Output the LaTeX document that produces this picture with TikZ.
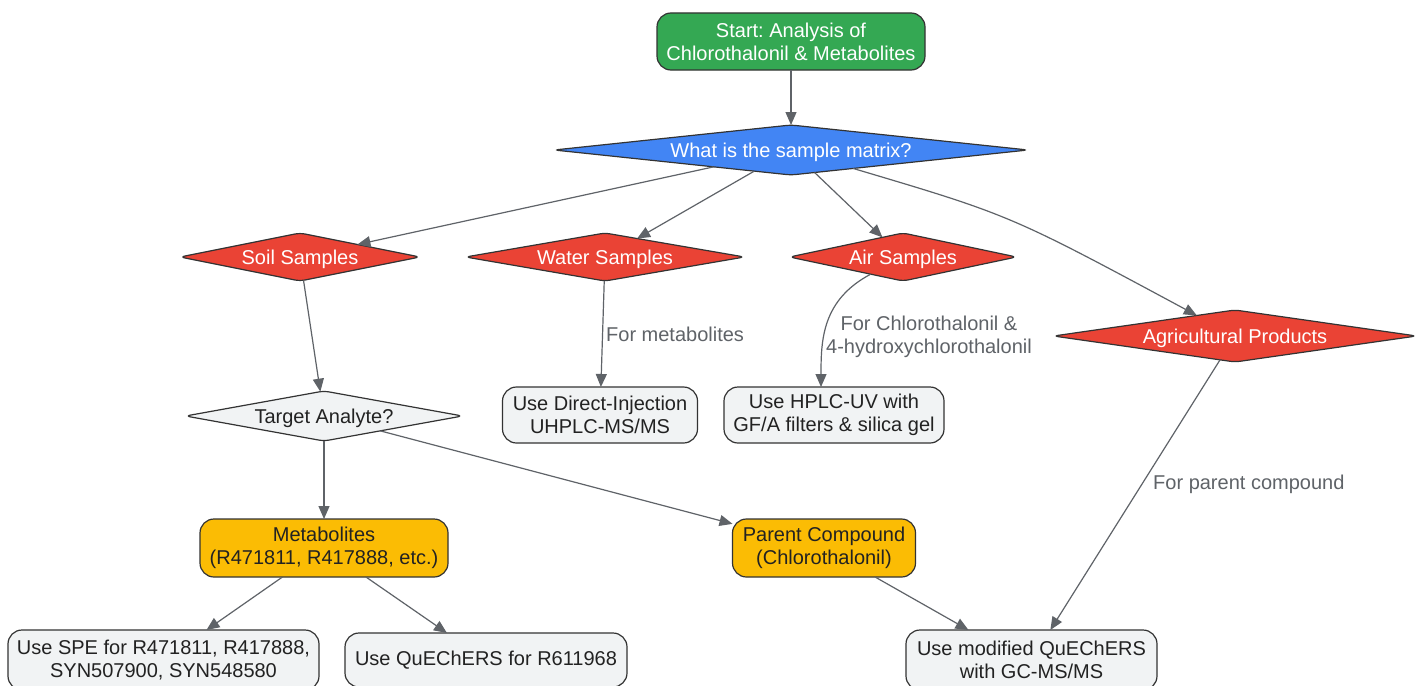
\documentclass[tikz,border=0pt]{standalone}
\usepackage{fontspec}
\setmainfont{Liberation Sans}
\usetikzlibrary{shapes.geometric,arrows.meta}
\definecolor{gGreen}{HTML}{34A853}
\definecolor{gBlue}{HTML}{4285F4}
\definecolor{gRed}{HTML}{EA4335}
\definecolor{gYellow}{HTML}{FBBC04}
\definecolor{lgray}{HTML}{F1F3F4}
\definecolor{bord}{HTML}{333333}
\definecolor{edgec}{HTML}{5F6368}
\definecolor{txt}{HTML}{222222}
\newcommand{\dtext}[1]{\makebox[0pt]{\raisebox{-0.36em}[0pt][0pt]{#1}}}
\frenchspacing
\begin{document}
\begin{tikzpicture}[x=1pt,y=-1pt,
  every node/.style={font=\fontsize{20}{23}\selectfont},
  dia/.style={shape=diamond, draw=bord, line width=1.2pt, rounded corners=5pt, inner sep=0pt, outer sep=0pt, text=white},
  box/.style={shape=rectangle, draw=bord, line width=1.2pt, rounded corners=14pt, inner sep=0pt, outer sep=0pt, align=center, text=txt, fill=lgray},
  conn/.style={draw=edgec, line width=1.2pt, -{Triangle[length=13pt,width=11pt]}},
  lbl/.style={text=edgec, align=center, inner sep=0pt}]
\useasboundingbox (0,0) rectangle (1423,685);
\fill[white] (0,0) rectangle (1423,685);

\node[box, fill=gGreen, text=white, minimum width=268pt, minimum height=57pt] (start) at (791,41.5) {Start: Analysis of\\Chlorothalonil \& Metabolites};
\node[dia, fill=gBlue, minimum width=474pt, minimum height=50pt] (matrix) at (791,150) {\dtext{What is the sample matrix?}};
\node[dia, fill=gRed, minimum width=240pt, minimum height=48pt] (soil) at (300,257) {\dtext{Soil Samples}};
\node[dia, fill=gRed, minimum width=279pt, minimum height=48pt] (water) at (605,257) {\dtext{Water Samples}};
\node[dia, fill=gRed, minimum width=227pt, minimum height=48pt] (air) at (903,257) {\dtext{Air Samples}};
\node[dia, fill=gRed, minimum width=363pt, minimum height=52pt] (agri) at (1235,336) {\dtext{Agricultural Products}};
\node[dia, fill=lgray, text=txt, minimum width=277pt, minimum height=50pt] (target) at (324,416) {\dtext{Target Analyte?}};

\node[box, minimum width=195pt, minimum height=56pt] (direct) at (600,415) {Use Direct-Injection\\UHPLC-MS/MS};
\node[box, minimum width=220pt, minimum height=56pt] (hplc) at (834,415) {Use HPLC-UV with\\GF/A filters \& silica gel};
\node[box, fill=gYellow, minimum width=248pt, minimum height=58pt] (metab) at (324,548) {Metabolites\\(R471811, R417888, etc.)};
\node[box, fill=gYellow, minimum width=183pt, minimum height=58pt] (parent) at (824,548) {Parent Compound\\(Chlorothalonil)};
\node[box, minimum width=311pt, minimum height=60pt] (spe) at (163.5,660) {Use SPE for R471811, R417888,\\SYN507900, SYN548580};
\node[box, minimum width=282pt, minimum height=54pt] (quech) at (486,660) {Use QuEChERS for R611968};
\node[box, minimum width=251pt, minimum height=60pt] (modq) at (1031.5,660) {Use modified QuEChERS\\with GC-MS/MS};

\draw[conn] (start) -- (matrix);
\draw[conn] (matrix) -- (soil);
\draw[conn] (matrix) -- (water);
\draw[conn] (matrix) -- (air);
\draw[conn] (matrix) .. controls (1010,215) .. (agri);
\draw[conn] (soil) -- (target);
\draw[conn] (water) -- node[lbl, right, xshift=3pt] (l1) {For metabolites} (direct);
\draw[conn] (air) .. controls (822,300) and (821,340) .. ([xshift=-13pt]hplc.north);
\node[lbl] (l2) at (929,337) {For Chlorothalonil \&\\4-hydroxychlorothalonil};
\draw[conn] (target) -- (metab);
\draw[conn] (target) -- (parent);
\draw[conn] (agri) -- (modq);
\node[lbl, anchor=west] (l3) at (1153,484) {For parent compound};
\draw[conn] (metab) -- (spe);
\draw[conn] (metab) -- (quech);
\draw[conn] (parent) -- ([xshift=-63pt]modq.north);
\end{tikzpicture}
\end{document}
